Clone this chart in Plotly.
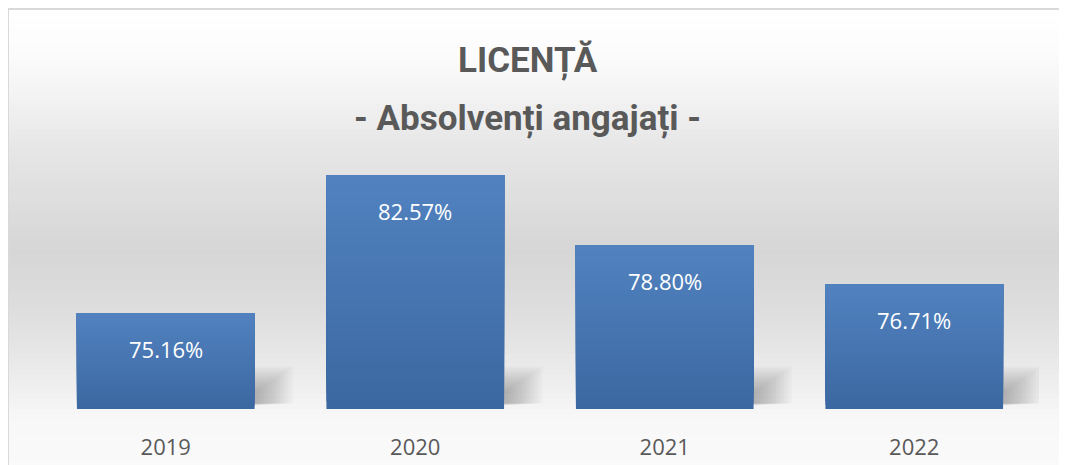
import plotly.graph_objects as go

years = ["2019", "2020", "2021", "2022"]
values = [75.16, 82.57, 78.80, 76.71]
title_line1 = "LICENȚĂ"
title_line2 = "- Absolvenți angajați -"

Y_MIN, Y_MAX = 70, 85
OFF = 8  # page offset of the figure
W, H = 1067, 465
# plot area in page pixels: x 41..1039, y 130..409
ML = 41 - OFF
MR = W - (1039 - OFF)
MT = 130 - OFF
MB = H - (409 - OFF)
PLOT_H = H - MT - MB
PLOT_W = W - ML - MR

def lerp(c1, c2, t):
    return tuple(round(a + (b - a) * t) for a, b in zip(c1, c2))

def hexc(c):
    return "#%02x%02x%02x" % c

def py(p):  # page y -> paper y
    return (H - MB - (p - OFF)) / PLOT_H

def px(p):  # page x -> paper x
    return ((p - OFF) - ML) / PLOT_W

fig = go.Figure()

# soft shadows behind each bar (layered translucent bars)
NS = 14
for k in range(NS):
    f = k / (NS - 1)
    fig.add_trace(go.Bar(
        x=years,
        y=[0.8 + 1.2 * (1 - f)] * len(years),
        base=[Y_MIN + 0.2 + 0.1 * (1 - f)] * len(years),
        width=0.356 + 0.015 + 0.14 * (1 - f), offset=0.0,
        marker=dict(color="rgba(0,0,0,0.02)", line=dict(width=0)),
        hoverinfo="skip", showlegend=False))

# gradient bars: overlaid slices, each from its start up to the value
N = 30
dark = (0x3c, 0x68, 0xa1)
light = (0x51, 0x82, 0xbf)
for i in range(N):
    t = i / (N - 1)
    fig.add_trace(go.Bar(
        x=years,
        y=[(v - Y_MIN) * (1 - i / N) for v in values],
        base=[Y_MIN + (v - Y_MIN) * i / N for v in values],
        width=0.712,
        marker=dict(color=hexc(lerp(dark, light, t)), line=dict(width=0)),
        hoverinfo="skip", showlegend=False))

for idx, v in enumerate(values):
    fig.add_annotation(x=idx, y=v, xref="x", yref="y", text=f"{v:.2f}%",
                       showarrow=False, yanchor="top", yshift=-19,
                       font=dict(family="Open Sans", size=22, color="#ffffff"))

# background gradient (layout decoration)
stops = [(0, (255, 255, 255)), (10, (255, 255, 255)), (50, (252, 252, 252)), (100, (242, 242, 242)),
         (150, (230, 230, 230)), (250, (214, 214, 214)), (300, (220, 220, 220)), (350, (230, 230, 230)),
         (390, (240, 240, 240)), (420, (248, 248, 248)), (470, (250, 250, 250))]
shapes = []
step = 5
for y0 in range(9, H + 10, step):
    ym = min(y0 + step / 2, 469)
    for (a, ca), (b, cb) in zip(stops[:-1], stops[1:]):
        if a <= ym <= b:
            c = lerp(ca, cb, (ym - a) / (b - a))
            break
    shapes.append(dict(type="rect", xref="paper", yref="paper", x0=px(8), x1=px(W + 20),
                       y0=py(y0 + step + 0.5), y1=py(y0), fillcolor=hexc(c), line=dict(width=0), layer="below"))
# border (top and left edges)
shapes.append(dict(type="line", xref="paper", yref="paper", x0=px(8), x1=px(W + 20), y0=py(9), y1=py(9),
                   line=dict(color="#d9d9d9", width=2), layer="below"))
shapes.append(dict(type="line", xref="paper", yref="paper", x0=px(8), x1=px(8), y0=py(9), y1=py(H + 20),
                   line=dict(color="#d9d9d9", width=2), layer="below"))

fig.add_annotation(xref="paper", yref="paper", x=px(527.5), y=py(60), text=title_line1, showarrow=False,
                   xanchor="center", yanchor="middle",
                   font=dict(family="Roboto", size=35, color="#595959", weight="bold"))
fig.add_annotation(xref="paper", yref="paper", x=px(527.5), y=py(119), text=title_line2, showarrow=False,
                   xanchor="center", yanchor="middle",
                   font=dict(family="Roboto", size=35, color="#595959", weight="bold"))

fig.update_layout(
    width=W, height=H, barmode="overlay",
    margin=dict(l=ML, r=MR, t=MT, b=MB),
    paper_bgcolor="#ffffff", plot_bgcolor="rgba(0,0,0,0)",
    shapes=shapes, showlegend=False,
    xaxis=dict(type="category", range=[-0.5, 3.5], showgrid=False, zeroline=False, showline=False, ticks="",
               tickfont=dict(family="Open Sans", size=22, color="#595959"), ticklabelstandoff=23),
    yaxis=dict(range=[Y_MIN, Y_MAX], visible=False),
)
fig.write_html("out.html", config={"displayModeBar": False},
               post_script="document.documentElement.style.overflow='hidden';document.body.style.overflow='hidden';")
